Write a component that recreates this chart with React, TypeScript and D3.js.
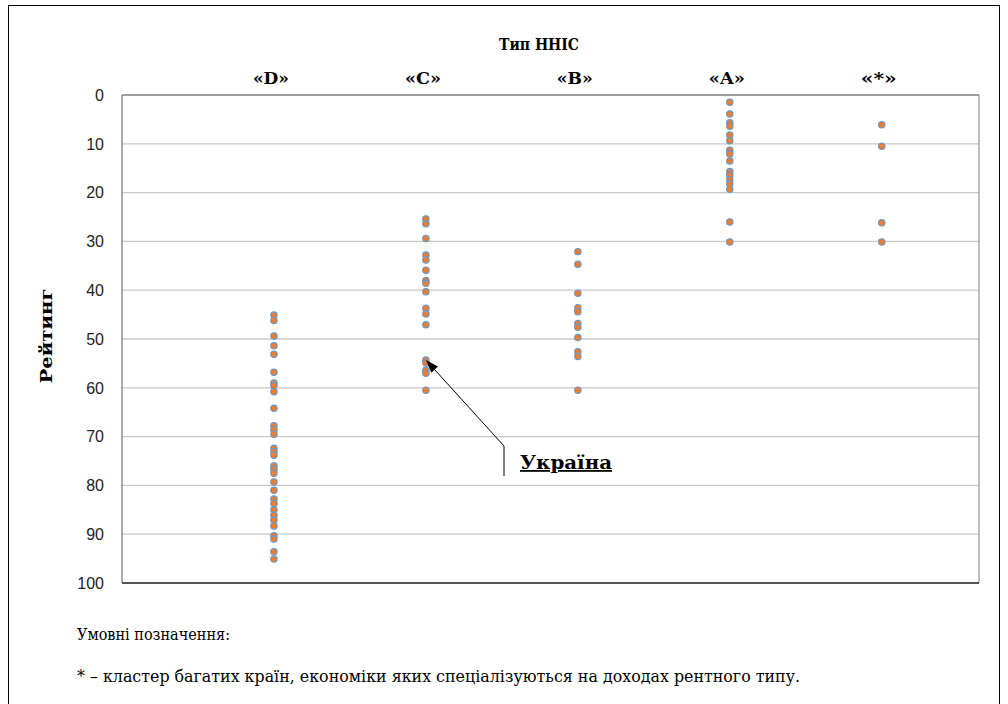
import React from "react";
import * as d3 from "d3";

const categories = ["«D»", "«C»", "«B»", "«A»", "«*»"];
const categoryX = [1, 2, 3, 4, 5];
const seriesD = [45.1, 46.2, 49.4, 51.4, 53.1, 56.8, 59.0, 59.6, 60.8, 64.2, 67.8, 68.6, 69.5, 72.4, 73.1, 73.8, 76.0, 76.7, 77.5, 79.3, 81.0, 82.8, 83.7, 85.0, 86.1, 87.1, 88.3, 90.3, 91.0, 93.6, 95.1];
const seriesC = [25.4, 26.4, 29.4, 32.8, 33.8, 35.9, 38.0, 38.6, 40.3, 43.7, 44.9, 47.1, 54.3, 54.9, 56.4, 57.0, 60.5];
const seriesB = [32.1, 34.7, 40.6, 43.6, 44.4, 46.8, 47.6, 49.7, 52.6, 53.6, 60.5];
const seriesA = [1.5, 3.9, 5.7, 6.4, 8.2, 9.4, 11.3, 12.1, 13.5, 15.7, 16.4, 17.3, 18.2, 19.3, 26.0, 30.1];
const seriesStar = [6.1, 10.5, 26.2, 30.1];
const yTicks = [0, 10, 20, 30, 40, 50, 60, 70, 80, 90, 100];
const ukraine = { x: 2, y: 54.3, label: "Україна" };
const title = "Тип ННІС";
const yTitle = "Рейтинг";
const legendTitle = "Умовні позначення:";
const legendNote = "* – кластер багатих країн, економіки яких спеціалізуються на доходах рентного типу.";

const allSeries = [seriesD, seriesC, seriesB, seriesA, seriesStar];

export default function App() {
  const W = 1008, H = 704;
  const left = 122, right = 979, top = 95, bottom = 583;
  const x = d3.scaleLinear().domain([0, 5.64]).range([left, right]);
  const y = d3.scaleLinear().domain([0, 100]).range([top, bottom]);
  const serif = "DejaVu Serif";
  const sans = "Liberation Sans";

  const ux = x(ukraine.x), uy = y(ukraine.y);
  const anchorX = 504, anchorY = 446;
  const ang = Math.atan2(uy - anchorY, ux - anchorX);
  const hl = 13, hw = 4.5;
  const bx = ux - hl * Math.cos(ang), by = uy - hl * Math.sin(ang);
  const px = -Math.sin(ang) * hw, py = Math.cos(ang) * hw;

  return (
    <svg width={W} height={H} style={{ position: "absolute", left: 0, top: 0 }}>
      <rect x={0} y={0} width={W} height={H} fill="#fff" />
      <rect x={8.5} y={5.5} width={991} height={740} fill="none" stroke="#000" strokeWidth={1} />
      <text x={539} y={50} textAnchor="middle" fontFamily={serif} fontWeight="bold" fontSize={17} textLength={80} lengthAdjust="spacingAndGlyphs">{title}</text>
      {categories.map((c, i) => (
        <text key={c} x={x(categoryX[i]) - 3} y={84} textAnchor="middle" fontFamily={serif} fontWeight="bold" fontSize={17} textLength={36} lengthAdjust="spacingAndGlyphs">{c}</text>
      ))}
      {yTicks.filter(t => t > 0 && t < 100).map(t => (
        <line key={t} x1={left} x2={right} y1={y(t)} y2={y(t)} stroke="#c8c8c8" strokeWidth={1.3} />
      ))}
      <line x1={left} x2={right} y1={top} y2={top} stroke="#7f7f7f" strokeWidth={1.5} />
      <line x1={right} x2={right} y1={top} y2={bottom} stroke="#7f7f7f" strokeWidth={1} />
      <line x1={left} x2={left} y1={top} y2={bottom} stroke="#7f7f7f" strokeWidth={1.3} />
      <line x1={left} x2={right} y1={bottom} y2={bottom} stroke="#1a1a1a" strokeWidth={1.5} />
      {yTicks.map(t => (
        <text key={t} x={104} y={y(t)} dy="0.36em" textAnchor="end" fontFamily={sans} fontSize={16} fill="#222">{t}</text>
      ))}
      <text transform={`translate(52,${(top + bottom) / 2 - 3}) rotate(-90)`} textAnchor="middle" fontFamily={serif} fontWeight="bold" fontSize={17} textLength={95} lengthAdjust="spacingAndGlyphs">{yTitle}</text>
      {allSeries.map((s, i) => s.map((v, j) => (
        <circle key={`${i}-${j}`} cx={x(categoryX[i])} cy={y(v)} r={3.2} fill="#ED7D31" stroke="#5B9BD5" strokeWidth={1.1} />
      )))}
      <line x1={anchorX} y1={anchorY} x2={bx} y2={by} stroke="#000" strokeWidth={1} />
      <polygon points={`${ux},${uy} ${bx + px},${by + py} ${bx - px},${by - py}`} fill="#000" />
      <line x1={anchorX} y1={anchorY} x2={anchorX} y2={476} stroke="#000" strokeWidth={1} />
      <text x={520} y={469} fontFamily={serif} fontWeight="bold" fontSize={18} textLength={92} lengthAdjust="spacingAndGlyphs" textDecoration="underline">{ukraine.label}</text>
      <text x={77} y={640} fontFamily={serif} fontSize={16} textLength={153} lengthAdjust="spacingAndGlyphs">{legendTitle}</text>
      <text x={77} y={682} fontFamily={serif} fontSize={16} textLength={723} lengthAdjust="spacingAndGlyphs">{legendNote}</text>
    </svg>
  );
}
